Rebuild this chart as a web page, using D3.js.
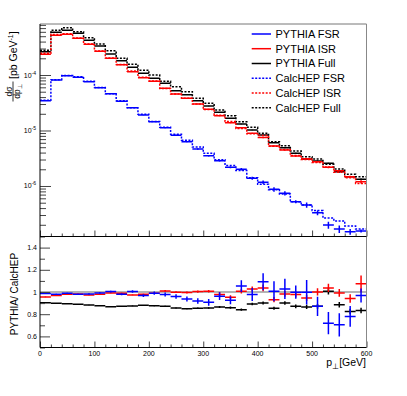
<!DOCTYPE html>
<html>
<head>
<meta charset="utf-8">
<script src="https://cdn.jsdelivr.net/npm/d3@7"></script>
<style>
  body { margin: 0; background: #fff; }
  svg { display: block; font-family: "Liberation Sans", Arial, sans-serif; }
</style>
</head>
<body>
<div id="chart"></div>
<script>
// pT bins, 20 GeV wide (lower edges)
const binLow = [0,20,40,60,80,100,120,140,160,180,200,220,240,260,280,
                300,320,340,360,380,400,420,440,460,480,500,520,540,560,580];
const binWidth = 20;

// dsigma/dpT [pb/GeV]
const pythiaFSR = [3.44e-5,8.1e-5,9.7e-5,9.1e-5,7.57e-5,5.9e-5,4.6e-5,3.36e-5,2.57e-5,1.9e-5,
                   1.44e-5,1.12e-5,8.2e-6,6.3e-6,4.65e-6,3.52e-6,2.86e-6,2.17e-6,2.0e-6,1.38e-6,
                   1.17e-6,8.7e-7,7.4e-7,5.2e-7,4.55e-7,3.3e-7,1.98e-7,1.68e-7,1.5e-7,1.55e-7];
const pythiaISR = [2.36e-4,5.19e-4,5.41e-4,4.58e-4,3.57e-4,2.67e-4,2.0e-4,1.53e-4,1.15e-4,8.9e-5,
                   7.7e-5,5.75e-5,4.55e-5,3.8e-5,3.0e-5,2.41e-5,1.85e-5,1.38e-5,1.12e-5,8.9e-6,
                   7.5e-6,5.26e-6,4.45e-6,3.47e-6,3.1e-6,2.74e-6,2.17e-6,1.89e-6,1.47e-6,1.19e-6];
const pythiaFull = [2.63e-4,5.87e-4,6.39e-4,5.64e-4,4.22e-4,3.33e-4,2.39e-4,1.81e-4,1.38e-4,1.07e-4,
                    8.7e-5,7.1e-5,5.2e-5,4.42e-5,3.44e-5,2.76e-5,2.13e-5,1.66e-5,1.31e-5,1.02e-5,
                    8.3e-6,6.03e-6,4.9e-6,3.88e-6,3.06e-6,2.82e-6,2.56e-6,1.81e-6,1.47e-6,1.32e-6];
const calcFSR = [3.49e-5,8.25e-5,9.8e-5,9.3e-5,7.7e-5,5.95e-5,4.58e-5,3.43e-5,2.56e-5,1.96e-5,
                 1.46e-5,1.15e-5,8.55e-6,6.7e-6,5.05e-6,3.88e-6,2.97e-6,2.35e-6,1.9e-6,1.41e-6,
                 1.07e-6,8.6e-7,7.2e-7,5.2e-7,4.55e-7,3.6e-7,2.65e-7,2.34e-7,1.9e-7,1.68e-7];
const calcISR = [2.47e-4,5.36e-4,5.52e-4,4.66e-4,3.63e-4,2.72e-4,2.02e-4,1.55e-4,1.18e-4,9.1e-5,
                 7.8e-5,5.7e-5,4.56e-5,3.82e-5,2.99e-5,2.39e-5,1.89e-5,1.45e-5,1.09e-5,8.7e-6,
                 8.1e-6,5.2e-6,4.55e-6,3.55e-6,3.0e-6,2.64e-6,2.19e-6,1.76e-6,1.41e-6,1.11e-6];
const calcFull = [2.79e-4,6.38e-4,7.11e-4,6.03e-4,4.70e-4,3.62e-4,2.74e-4,2.0e-4,1.56e-4,1.22e-4,
                  1.0e-4,7.7e-5,6.15e-5,5.0e-5,3.8e-5,3.09e-5,2.34e-5,1.85e-5,1.44e-5,1.14e-5,
                  8.9e-6,6.3e-6,5.3e-6,4.27e-6,3.37e-6,3.06e-6,2.46e-6,2.02e-6,1.62e-6,1.47e-6];

// relative statistical errors of the PYTHIA samples
const errFSR = [0.004,0.004,0.004,0.005,0.005,0.006,0.008,0.009,0.011,0.013,0.015,0.018,0.021,0.024,0.028,
                0.033,0.036,0.038,0.05,0.06,0.07,0.09,0.088,0.06,0.11,0.1,0.14,0.15,0.12,0.065];
const errISR = [0.003,0.002,0.002,0.002,0.003,0.003,0.003,0.004,0.004,0.005,0.006,0.007,0.008,0.009,0.01,
                0.012,0.024,0.018,0.02,0.022,0.03,0.025,0.026,0.028,0.03,0.032,0.035,0.036,0.04,0.07];
const errFull = [0.002,0.002,0.002,0.002,0.002,0.003,0.003,0.003,0.004,0.004,0.005,0.005,0.006,0.007,0.008,
                 0.009,0.01,0.011,0.012,0.013,0.014,0.016,0.018,0.02,0.022,0.024,0.03,0.028,0.03,0.03];

// PYTHIA / CalcHEP
const ratioFSR = [0.986,0.98,0.989,0.98,0.983,0.992,1.004,0.98,1.004,0.968,0.989,0.977,0.959,0.937,0.919,
                  0.907,0.962,0.925,1.053,0.977,1.092,1.007,1.028,0.998,0.998,0.871,0.719,0.704,0.78,0.968];
const ratioISR = [0.956,0.968,0.98,0.983,0.974,0.98,0.992,0.989,0.974,0.98,0.989,1.01,0.998,0.995,1.004,
                  1.007,0.977,0.953,1.007,1.028,1.037,0.931,0.983,0.977,0.947,1.001,1.037,0.992,0.941,1.074];
const ratioFull = [0.904,0.898,0.895,0.889,0.883,0.877,0.868,0.871,0.874,0.880,0.877,0.871,0.856,0.850,0.853,
                   0.856,0.865,0.859,0.841,0.892,0.901,0.853,0.901,0.871,0.865,0.871,1.007,0.886,0.825,0.834];

const legendLabels = ["PYTHIA FSR","PYTHIA ISR","PYTHIA Full","CalcHEP FSR","CalcHEP ISR","CalcHEP Full"];
const xTicks = [0,100,200,300,400,500,600];
const ratioTicks = [0.6,0.8,1,1.2,1.4];
const logTicks = [-4,-5,-6];

const drawChart = () => {
  const width = 407, height = 396;
  const left = 40, right = 366.5, topY = 24, splitY = 236.5, bottomY = 347.5;

  const svg = d3.select("#chart").append("svg")
    .attr("width", width).attr("height", height);

  // scales
  const xScale = d3.scaleLinear().domain([0, 600]).range([left, right]);
  const yScale = d3.scaleLog().domain([Math.pow(10, -6.91), Math.pow(10, -3.081)]).range([splitY, topY]);
  const rScale = d3.scaleLinear().domain([0.5, 1.5]).range([bottomY, splitY]);

  svg.append("defs").append("clipPath").attr("id", "clipTop")
    .append("rect").attr("x", left).attr("y", topY).attr("width", right - left).attr("height", splitY - topY);
  svg.select("defs").append("clipPath").attr("id", "clipBot")
    .append("rect").attr("x", left).attr("y", splitY).attr("width", right - left).attr("height", bottomY - splitY);

  const colours = {FSR: "#0000ff", ISR: "#ff0000", Full: "#000000"};

  /* top panel */
  const top = svg.append("g").attr("clip-path", "url(#clipTop)");

  const stepLine = (vals) => {
    const pts = [];
    vals.forEach((v, i) => {
      pts.push([xScale(binLow[i]), yScale(v)]);
      pts.push([xScale(binLow[i] + binWidth), yScale(v)]);
    });
    return d3.line()(pts);
  };

  const drawErrHist = (g, vals, errs, colour, ys) => {
    const grp = g.append("g").attr("stroke", colour).attr("stroke-width", 1.5).attr("fill", "none");
    grp.selectAll("line.h").data(vals).join("line")
      .attr("x1", (d, i) => xScale(binLow[i]))
      .attr("x2", (d, i) => xScale(binLow[i] + binWidth))
      .attr("y1", d => ys(d)).attr("y2", d => ys(d));
    grp.selectAll("line.v").data(vals).join("line")
      .attr("x1", (d, i) => xScale(binLow[i] + binWidth / 2))
      .attr("x2", (d, i) => xScale(binLow[i] + binWidth / 2))
      .attr("y1", (d, i) => ys(d * (1 - errs[i])))
      .attr("y2", (d, i) => ys(d * (1 + errs[i])));
  };

  drawErrHist(top, pythiaFull, errFull, colours.Full, yScale);
  drawErrHist(top, pythiaISR, errISR, colours.ISR, yScale);
  drawErrHist(top, pythiaFSR, errFSR, colours.FSR, yScale);

  [[calcFull, colours.Full], [calcISR, colours.ISR], [calcFSR, colours.FSR]].forEach(([vals, c]) => {
    top.append("path")
      .attr("d", stepLine(vals))
      .attr("fill", "none").attr("stroke", c)
      .attr("stroke-width", 1.5).attr("stroke-dasharray", "2,1.5");
  });

  /* ratio panel */
  const bot = svg.append("g").attr("clip-path", "url(#clipBot)");
  bot.append("line")
    .attr("x1", left).attr("x2", right)
    .attr("y1", rScale(1)).attr("y2", rScale(1))
    .attr("stroke", "#b4b4b4").attr("stroke-width", 2);
  drawErrHist(bot, ratioFull, errFull, colours.Full, rScale);
  drawErrHist(bot, ratioISR, errISR, colours.ISR, rScale);
  drawErrHist(bot, ratioFSR, errFSR, colours.FSR, rScale);

  /* axes */
  const minorX = d3.range(0, 601, 20).filter(v => v % 100 !== 0);
  [splitY, bottomY].forEach(yy => {
    svg.append("g").attr("transform", `translate(0, ${yy})`)
      .call(d3.axisTop(xScale).tickValues(xTicks).tickSize(6).tickFormat(""))
      .call(g => g.select(".domain").remove());
    svg.append("g").attr("transform", `translate(0, ${yy})`)
      .call(d3.axisTop(xScale).tickValues(minorX).tickSize(3).tickFormat(""))
      .call(g => g.select(".domain").remove());
  });

  const logMinor = [];
  [-7, -6, -5, -4].forEach(e => {
    for (let k = 2; k <= 9; k++) {
      const v = k * Math.pow(10, e);
      if (v > yScale.domain()[0] && v < yScale.domain()[1]) logMinor.push(v);
    }
  });
  svg.append("g").attr("transform", `translate(${left}, 0)`)
    .call(d3.axisRight(yScale).tickValues(logTicks.map(e => Math.pow(10, e))).tickSize(11).tickFormat(""))
    .call(g => g.select(".domain").remove());
  svg.append("g").attr("transform", `translate(${left}, 0)`)
    .call(d3.axisRight(yScale).tickValues(logMinor).tickSize(6).tickFormat(""))
    .call(g => g.select(".domain").remove());

  const ratioMinor = d3.range(0.5, 1.51, 0.1).map(v => +v.toFixed(1)).filter(v => !ratioTicks.includes(v));
  svg.append("g").attr("transform", `translate(${left}, 0)`)
    .call(d3.axisRight(rScale).tickValues(ratioTicks).tickSize(10).tickFormat(""))
    .call(g => g.select(".domain").remove());
  svg.append("g").attr("transform", `translate(${left}, 0)`)
    .call(d3.axisRight(rScale).tickValues(ratioMinor).tickSize(5).tickFormat(""))
    .call(g => g.select(".domain").remove());

  svg.selectAll(".tick line").attr("stroke", "#444");

  // frame lines
  const frame = svg.append("g").attr("fill", "none");
  frame.append("line").attr("x1", left).attr("x2", right).attr("y1", topY).attr("y2", topY).attr("stroke", "#777");
  frame.append("line").attr("x1", right).attr("x2", right).attr("y1", topY).attr("y2", bottomY).attr("stroke", "#888");
  frame.append("line").attr("x1", left).attr("x2", left).attr("y1", topY).attr("y2", bottomY).attr("stroke", "#000");
  frame.append("line").attr("x1", left).attr("x2", right).attr("y1", splitY).attr("y2", splitY).attr("stroke", "#000");
  frame.append("line").attr("x1", left).attr("x2", right).attr("y1", bottomY).attr("y2", bottomY).attr("stroke", "#000");

  // tick labels
  const logLab = svg.append("g").attr("font-size", 7).attr("fill", "#000");
  logTicks.forEach(e => {
    const t = logLab.append("text")
      .attr("x", 36).attr("y", yScale(Math.pow(10, e)) + 2.5)
      .attr("text-anchor", "end");
    t.append("tspan").text("10");
    t.append("tspan").attr("font-size", 5).attr("dy", -3).text(`-${-e}`);
  });

  svg.append("g").attr("font-size", 7).selectAll("text")
    .data(ratioTicks).join("text")
      .attr("x", 37).attr("y", d => rScale(d) + 2.5)
      .attr("text-anchor", "end")
      .text(d => d3.format("~g")(d));

  svg.append("g").attr("font-size", 7).selectAll("text")
    .data(xTicks).join("text")
      .attr("x", d => xScale(d)).attr("y", 355.5)
      .attr("text-anchor", "middle")
      .text(d => d);

  // axis titles
  const xt = svg.append("text").attr("x", 366).attr("y", 366).attr("text-anchor", "end").attr("font-size", 10.5);
  xt.append("tspan").text("p");
  xt.append("tspan").attr("font-size", 7.5).attr("dy", 3).text("\u22a5");
  xt.append("tspan").attr("dy", -3).text("[GeV]");

  svg.append("text")
    .attr("transform", "translate(18, 294) rotate(-90)")
    .attr("text-anchor", "middle").attr("font-size", 10)
    .text("PYTHIA/ CalcHEP");

  const yt = svg.append("g").attr("transform", "translate(13, 102) rotate(-90)");
  yt.append("text").attr("x", 10.5).attr("y", -1.5).attr("text-anchor", "middle").attr("font-size", 8.5).text("d\u03c3");
  yt.append("line").attr("x1", 0.5).attr("x2", 20.5).attr("y1", 0).attr("y2", 0).attr("stroke", "#000").attr("stroke-width", 0.8);
  const den = yt.append("text").attr("x", 10.5).attr("y", 7).attr("text-anchor", "middle").attr("font-size", 8.5);
  den.append("tspan").text("dp");
  den.append("tspan").attr("font-size", 6).attr("dy", 1.5).text("\u22a5");
  const unit = yt.append("text").attr("x", 23).attr("y", 4).attr("font-size", 10.5);
  unit.append("tspan").text("[pb GeV");
  unit.append("tspan").attr("font-size", 7).attr("dy", -4).text("-1");
  unit.append("tspan").attr("dy", 4).text("]");

  // legend
  const legendY = [34, 48.7, 63.5, 78.3, 93, 107.8];
  const legendColour = [colours.FSR, colours.ISR, colours.Full, colours.FSR, colours.ISR, colours.Full];
  const legend = svg.append("g");
  legendLabels.forEach((lab, i) => {
    legend.append("line")
      .attr("x1", 251.7).attr("x2", 271)
      .attr("y1", legendY[i]).attr("y2", legendY[i])
      .attr("stroke", legendColour[i]).attr("stroke-width", 1.5)
      .attr("stroke-dasharray", i >= 3 ? "2,1.5" : null);
    legend.append("text")
      .attr("x", 275.5).attr("y", legendY[i]).attr("dy", "0.36em")
      .attr("font-size", 11).text(lab);
  });
};

drawChart();
</script>
</body>
</html>
